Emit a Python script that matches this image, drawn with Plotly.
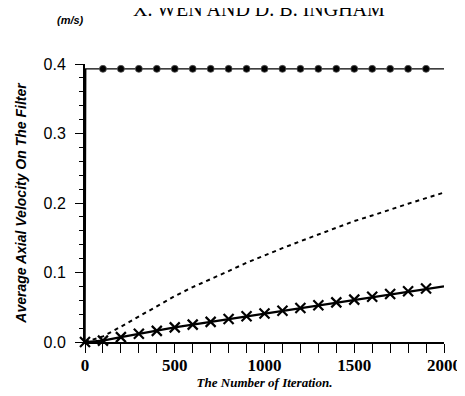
import plotly.graph_objects as go

# ---- data ----
iter_all = [0, 100, 200, 300, 400, 500, 600, 700, 800, 900, 1000,
            1100, 1200, 1300, 1400, 1500, 1600, 1700, 1800, 1900, 2000]
iter_marks = iter_all[1:-1]                      # 100 ... 1900 (circle markers)
iter_cross = iter_all[:-1]                       # 0 ... 1900 (cross markers)

top_line_x = [0, 4, 2000]
top_line_y = [0.0, 0.393, 0.393]
top_marks_y = [0.393] * len(iter_marks)

dashed_y = [0.0, 0.008, 0.022, 0.037, 0.052, 0.066, 0.079, 0.090, 0.102, 0.114,
            0.125, 0.135, 0.145, 0.155, 0.165, 0.174, 0.182, 0.191, 0.199, 0.207, 0.215]

cross_y = [0.0, 0.002, 0.007, 0.012, 0.016, 0.021, 0.025, 0.029, 0.033, 0.037,
           0.041, 0.045, 0.049, 0.053, 0.057, 0.061, 0.065, 0.069, 0.073, 0.077, 0.080]

x_ticks = [0, 500, 1000, 1500, 2000]
y_ticks = [0.0, 0.1, 0.2, 0.3, 0.4]
y_tick_text = ["0.0", "0.1", "0.2", "0.3", "0.4"]

fig = go.Figure()

# top curve (line + circle markers)
fig.add_trace(go.Scatter(x=top_line_x, y=top_line_y, mode="lines",
                         line=dict(color="black", width=1.4), cliponaxis=False,
                         showlegend=False))
fig.add_trace(go.Scatter(x=iter_marks, y=top_marks_y, mode="markers",
                         marker=dict(symbol="circle", size=7, color="black",
                                     line=dict(width=0.8, color="#555")),
                         cliponaxis=False, showlegend=False))

# dashed curve
fig.add_trace(go.Scatter(x=iter_all, y=dashed_y, mode="lines",
                         line=dict(color="black", width=2, dash="4px,4px"),
                         cliponaxis=False, showlegend=False))

# crosses curve
fig.add_trace(go.Scatter(x=iter_all, y=cross_y, mode="lines",
                         line=dict(color="black", width=2.2),
                         cliponaxis=False, showlegend=False))
fig.add_trace(go.Scatter(x=iter_cross, y=cross_y[:-1], mode="markers",
                         marker=dict(symbol="x-thin", size=10, color="black",
                                     line=dict(width=2.2, color="black")),
                         cliponaxis=False, showlegend=False))

plot_w = 465 - 75 - 19
plot_h = 396 - 56 - 62

fig.update_layout(
    width=465, height=396,
    margin=dict(l=75, r=19, t=56, b=62),
    paper_bgcolor="white", plot_bgcolor="white",
    xaxis=dict(range=[0, 2000], tickvals=x_ticks, ticktext=[f"<b>{v}</b>" for v in x_ticks],
               showgrid=False, zeroline=False, showline=True, linecolor="black",
               linewidth=1.5, ticks="outside", ticklen=9, tickwidth=1.3,
               tickcolor="black", ticklabelstandoff=-2,
               minor=dict(dtick=100, ticks="outside", ticklen=9, tickwidth=1.3,
                          tickcolor="black", showgrid=False),
               tickfont=dict(family="Liberation Serif", size=17, color="black"),
               title=dict(text="<b><i>The Number of Iteration.</i></b>",
                          font=dict(family="Liberation Serif", size=13, color="black"),
                          standoff=2)),
    yaxis=dict(range=[0, 0.4], tickvals=y_ticks, ticktext=y_tick_text,
               showgrid=False, zeroline=False, showline=True, linecolor="black",
               linewidth=2, ticks="outside", ticklen=8, tickwidth=1.3,
               tickcolor="black", ticklabelstandoff=6,
               minor=dict(dtick=0.02, ticks="outside", ticklen=4, tickwidth=1.3,
                          tickcolor="black", showgrid=False),
               tickfont=dict(family="Liberation Sans", size=16, color="black"),
               title=dict(text="<b><i>Average Axial Velocity On The Filter</i></b>",
                          font=dict(family="Liberation Sans", size=14, color="black"),
                          standoff=14)),
    annotations=[
        dict(text="X. WEN AND D. B. INGHAM", xref="paper", yref="paper",
             x=(255 - 75) / plot_w, y=(396 - 62 - 1) / plot_h,
             xanchor="center", yanchor="middle", showarrow=False,
             font=dict(family="Liberation Serif", size=20, color="black")),
        dict(text="<b><i>(m/s)</i></b>", xref="paper", yref="paper",
             x=(60 - 75) / plot_w, y=(396 - 62 - 12) / plot_h,
             xanchor="center", yanchor="middle", showarrow=False,
             font=dict(family="Liberation Sans", size=11, color="black")),
    ],
)

fig.write_html("out.html")
